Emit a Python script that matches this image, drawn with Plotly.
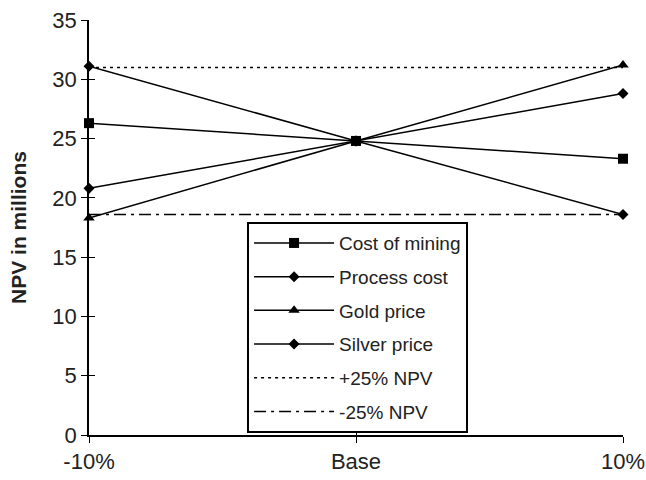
import plotly.graph_objects as go

# Sensitivity of NPV (millions) to +/-10% changes in each driver
scenarios = ["-10%", "Base", "10%"]
cost_of_mining = [26.3, 24.8, 23.3]
process_cost = [20.8, 24.8, 28.8]
gold_price = [18.3, 24.8, 31.2]
silver_price = [31.1, 24.8, 18.6]
npv_plus_25 = [31.0, 31.0, 31.0]
npv_minus_25 = [18.6, 18.6, 18.6]

x = list(range(len(scenarios)))
font_family = "Liberation Sans, Arial, sans-serif"

fig = go.Figure()

series = [
    ("Cost of mining", cost_of_mining, "square", 10),
    ("Process cost", process_cost, "diamond", 8.5),
    ("Gold price", gold_price, "triangle-up", 10),
    ("Silver price", silver_price, "diamond", 8.5),
]
for name, vals, sym, size in series:
    fig.add_trace(go.Scatter(
        x=x, y=vals, name=name, mode="lines+markers", legendgroup=name,
        line=dict(color="black", width=1.5),
        marker=dict(symbol=sym, size=size, color="black"),
        cliponaxis=False,
    ))

fig.add_trace(go.Scatter(
    x=x, y=npv_plus_25, name="+25% NPV", mode="lines", legendgroup="plus",
    line=dict(color="black", width=1.5, dash="3px,4px"),
))
fig.add_trace(go.Scatter(
    x=x, y=npv_minus_25, name="-25% NPV", mode="lines", legendgroup="minus",
    line=dict(color="black", width=1.5, dash="12px,5px,3px,5px"),
))

# invisible trace to carry the inner half of the tick marks
fig.add_trace(go.Scatter(x=[0], y=[0], xaxis="x2", yaxis="y2",
                         mode="markers", marker=dict(opacity=0),
                         showlegend=False, hoverinfo="skip"))

axis_common = dict(
    showgrid=False, zeroline=False, showline=True, automargin=False,
    linecolor="black", linewidth=1.6,
    tickcolor="black", tickwidth=1.4, ticklen=6,
    tickfont=dict(family=font_family, size=22, color="#222"),
)

fig.update_layout(
    width=646, height=480,
    margin=dict(l=89, r=23, t=20, b=45),
    paper_bgcolor="white", plot_bgcolor="white",
    font=dict(family=font_family, color="black"),
    xaxis=dict(
        range=[0, 2], tickvals=x, ticktext=scenarios,
        ticks="outside", **axis_common,
    ),
    yaxis=dict(
        range=[0, 35], dtick=5, ticks="outside",
        title=dict(text="<b>NPV in millions</b>",
                   font=dict(family=font_family, size=21, color="#222"),
                   standoff=20),
        **axis_common,
    ),
    xaxis2=dict(range=[0, 2], tickvals=x, ticks="inside", overlaying="x",
                showticklabels=False, showgrid=False, zeroline=False,
                tickcolor="black", tickwidth=1.4, ticklen=6, showline=False),
    yaxis2=dict(range=[0, 35], dtick=5, ticks="inside", overlaying="y",
                showticklabels=False, showgrid=False, zeroline=False,
                tickcolor="black", tickwidth=1.4, ticklen=6, showline=False),
    legend=dict(
        x=0.296, y=0.513, xanchor="left", yanchor="top",
        bgcolor="white", bordercolor="black", borderwidth=2,
        font=dict(family=font_family, size=19, color="#222"),
        itemwidth=80, tracegroupgap=6,
    ),
    showlegend=True,
)

fig.write_html("out.html")
